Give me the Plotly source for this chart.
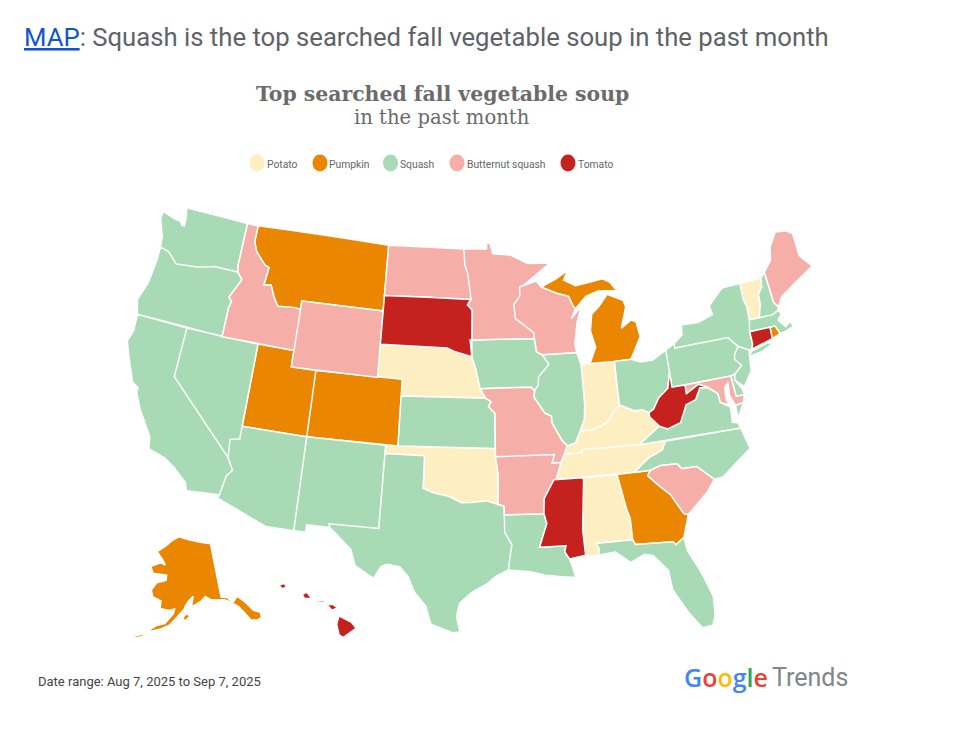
import plotly.graph_objects as go

categories = ["Potato", "Pumpkin", "Squash", "Butternut squash", "Tomato"]
colors = ["#FEEFC3", "#EA8600", "#A8DAB5", "#F6AEA9", "#C5221F"]

potato = ["VT", "NE", "OK", "IN", "KY", "TN", "AL"]
pumpkin = ["MT", "UT", "CO", "MI", "MI_UP", "GA", "AK", "AK_KODIAK", "AK_ISLE1", "RI"]
squash = ["WA", "OR", "CA", "NV", "AZ", "NM", "TX", "KS", "IA", "IL", "LA", "FL", "OH", "PA", "NY", "NY_LI",
          "NJ", "NH", "MA", "VA", "VA_SHORE", "NC", "DE"]
butternut = ["ID", "WY", "ND", "MN", "WI", "MO", "AR", "ME", "SC", "MD"]
tomato = ["SD", "WV", "MS", "CT", "HI_BIG", "HI_MAUI", "HI_OAHU", "HI_KAUAI", "HI_MOLOKAI"]
category_states = [potato, pumpkin, squash, butternut, tomato]

# rough state outlines, lon/lat
outlines = {
    "WA": [(-124.7,48.38),(-123.5,48.15),(-122.9,48.1),(-122.75,47.9),(-122.5,47.9),(-122.55,48.5),(-122.76,49),(-117.03,49),(-117.04,46.42),(-116.92,45.99),(-118.98,46),(-119.3,45.93),(-120.5,45.7),(-121.2,45.65),(-122.3,45.55),(-122.8,45.9),(-123.2,46.15),(-124,46.27),(-124.1,46.9),(-124.7,47.9)],
    "OR": [(-124,46.27),(-123.2,46.15),(-122.8,45.9),(-122.3,45.55),(-121.2,45.65),(-120.5,45.7),(-119.3,45.93),(-118.98,46),(-116.92,45.99),(-116.45,45.6),(-116.85,44.95),(-117.2,44.4),(-116.9,44.2),(-117.03,43.8),(-117.03,42),(-124.2,42),(-124.55,42.85),(-124.1,44),(-123.95,45.5)],
    "CA": [(-124.2,42),(-120,42),(-120,39),(-114.63,35),(-114.13,34.3),(-114.5,33.9),(-114.72,32.72),(-117.12,32.53),(-117.3,33),(-118.4,33.75),(-119.2,34.15),(-120.5,34.45),(-120.65,35.15),(-121.9,36.6),(-122.5,37.5),(-122.5,37.8),(-123,38),(-123.8,39.3),(-124.35,40.3),(-124.1,41)],
    "NV": [(-120,42),(-114.04,42),(-114.04,36.2),(-114.75,36.1),(-114.63,35),(-120,39)],
    "ID": [(-117.03,49),(-116.05,49),(-116.05,48),(-115.7,47.45),(-114.75,46.75),(-114.35,46.65),(-114.5,45.55),(-113.9,45.65),(-113.45,44.95),(-113,44.45),(-111.5,44.55),(-111.05,44.48),(-111.05,42),(-117.03,42),(-117.03,43.8),(-116.9,44.2),(-117.2,44.4),(-116.85,44.95),(-116.45,45.6),(-116.92,45.99),(-117.04,46.42)],
    "MT": [(-116.05,49),(-104.05,49),(-104.05,45),(-111.05,45),(-111.05,44.48),(-111.5,44.55),(-113,44.45),(-113.45,44.95),(-113.9,45.65),(-114.5,45.55),(-114.35,46.65),(-114.75,46.75),(-115.7,47.45),(-116.05,48)],
    "WY": [(-111.05,45),(-104.05,45),(-104.05,41),(-111.05,41)],
    "UT": [(-114.04,42),(-111.05,42),(-111.05,41),(-109.05,41),(-109.05,37),(-114.04,37)],
    "CO": [(-109.05,41),(-102.05,41),(-102.05,37),(-109.05,37)],
    "AZ": [(-114.04,37),(-109.05,37),(-109.05,31.33),(-111.07,31.33),(-114.81,32.5),(-114.72,32.72),(-114.5,33.9),(-114.13,34.3),(-114.63,35),(-114.75,36.1),(-114.04,36.2)],
    "NM": [(-109.05,37),(-103,37),(-103.05,32),(-106.62,32),(-106.53,31.78),(-108.2,31.78),(-108.2,31.33),(-109.05,31.33)],
    "TX": [(-103,36.5),(-100,36.5),(-100,34.56),(-99.2,34.3),(-98.1,34.13),(-97.15,33.75),(-96.4,33.78),(-95.3,33.88),(-94.48,33.64),(-94.04,33.55),(-94.04,31.99),(-93.55,31.2),(-93.7,30.5),(-93.84,29.7),(-94.7,29.35),(-95.3,28.9),(-96.4,28.35),(-97.2,27.7),(-97.4,26.9),(-97.15,25.96),(-97.6,25.9),(-99.1,26.4),(-99.5,27.5),(-100.3,28.3),(-100.8,29.25),(-101.4,29.77),(-102.3,29.88),(-102.7,29.7),(-103.15,28.98),(-104.5,29.65),(-104.9,30.6),(-106.53,31.78),(-106.62,32),(-103.05,32)],
    "ND": [(-104.05,49),(-97.23,49),(-97.1,48),(-96.85,47.5),(-96.6,46.3),(-96.56,45.94),(-104.05,45.94)],
    "SD": [(-104.05,45.94),(-96.56,45.94),(-96.85,45.6),(-96.45,45.3),(-96.45,43.5),(-96.6,43.5),(-96.45,42.49),(-97.9,42.8),(-98.5,43),(-104.05,43)],
    "NE": [(-104.05,43),(-98.5,43),(-97.9,42.8),(-96.45,42.49),(-96.1,41.7),(-95.9,41),(-95.31,40),(-102.05,40),(-102.05,41),(-104.05,41)],
    "KS": [(-102.05,40),(-95.31,40),(-94.9,39.8),(-95.1,39.5),(-94.61,39.1),(-94.62,37),(-102.05,37)],
    "OK": [(-103,37),(-94.62,37),(-94.62,36.5),(-94.43,35.4),(-94.48,33.64),(-95.3,33.88),(-96.4,33.78),(-97.15,33.75),(-98.1,34.13),(-99.2,34.3),(-100,34.56),(-100,36.5),(-103,36.5)],
    "MN": [(-97.23,49),(-95.15,49),(-95.15,49.38),(-94.8,49.3),(-94.6,48.7),(-93,48.6),(-91.5,48.05),(-89.5,48),(-92,46.7),(-92.3,46.65),(-92.3,46.1),(-92.85,45.6),(-92.75,44.75),(-91.25,43.85),(-91.22,43.5),(-96.45,43.5),(-96.45,45.3),(-96.85,45.6),(-96.56,45.94),(-96.6,46.3),(-96.85,47.5),(-97.1,48)],
    "IA": [(-96.45,43.5),(-91.22,43.5),(-91.1,42.7),(-90.65,42.5),(-90.15,41.9),(-91.05,41.2),(-91.1,40.7),(-91.42,40.38),(-91.7,40.6),(-95.77,40.58),(-95.9,41),(-96.1,41.7),(-96.45,42.49)],
    "MO": [(-95.77,40.58),(-91.7,40.6),(-91.42,40.38),(-91.5,40),(-90.7,39),(-90.2,38.8),(-90.2,38.4),(-89.5,37.3),(-89.13,36.98),(-89.4,36.5),(-89.7,36),(-90.37,36),(-90.15,36.5),(-94.62,36.5),(-94.62,37),(-94.61,39.1),(-95.1,39.5),(-94.9,39.8),(-95.31,40)],
    "AR": [(-94.62,36.5),(-90.15,36.5),(-90.37,36),(-89.7,36),(-90.1,35.1),(-90.6,34.6),(-91.1,33.9),(-91.17,33),(-94.04,33.02),(-94.04,33.55),(-94.48,33.64),(-94.43,35.4)],
    "LA": [(-94.04,33.02),(-91.17,33),(-91,32.4),(-91.6,31),(-89.73,31),(-89.85,30.65),(-89.55,30.2),(-89.4,29.8),(-89.2,29.05),(-90.1,29.15),(-91.3,29.3),(-92.3,29.55),(-93.84,29.7),(-93.7,30.5),(-93.55,31.2),(-94.04,31.99)],
    "WI": [(-92,46.7),(-90.8,46.95),(-90.4,46.57),(-89.1,46.14),(-88.1,45.9),(-87.8,45.35),(-87.6,45.1),(-88,44.55),(-87.05,45.25),(-87.55,44.3),(-87.9,43),(-87.8,42.49),(-90.65,42.5),(-91.1,42.7),(-91.22,43.5),(-91.25,43.85),(-92.75,44.75),(-92.85,45.6),(-92.3,46.1),(-92.3,46.65)],
    "IL": [(-90.65,42.5),(-87.8,42.49),(-87.53,41.72),(-87.53,39.35),(-87.65,38.5),(-88.05,37.8),(-88.5,37.1),(-89.13,36.98),(-89.5,37.3),(-90.2,38.4),(-90.2,38.8),(-90.7,39),(-91.5,40),(-91.42,40.38),(-91.1,40.7),(-91.05,41.2),(-90.15,41.9)],
    "IN": [(-87.53,41.72),(-87.2,41.76),(-84.8,41.76),(-84.82,39.1),(-85.4,38.7),(-85.75,38.27),(-86.3,38),(-87.1,37.8),(-88.05,37.8),(-87.65,38.5),(-87.53,39.35)],
    "MI": [(-86.8,41.76),(-84.8,41.73),(-83.45,41.73),(-83.15,42.1),(-82.45,43),(-82.6,43.9),(-83,44.07),(-83.9,43.65),(-83.3,44.9),(-83.45,45.3),(-84.75,45.78),(-85.6,45.1),(-86.25,44.7),(-86.5,43.7),(-86.2,42.7)],
    "MI_UP": [(-90.4,46.57),(-89.1,47),(-88,47.45),(-88.4,46.9),(-87.4,46.5),(-86,46.65),(-85,46.75),(-84.4,46.5),(-83.9,45.95),(-84.75,46),(-85.5,46.05),(-86.6,45.8),(-87.6,45.1),(-87.8,45.35),(-88.1,45.9),(-89.1,46.14)],
    "OH": [(-84.8,41.73),(-83.45,41.73),(-82.7,41.5),(-81.7,41.5),(-80.52,41.98),(-80.52,40.64),(-80.85,39.7),(-81.7,39.2),(-82.2,38.6),(-82.6,38.42),(-83.1,38.65),(-83.7,38.65),(-84.82,39.1)],
    "KY": [(-89.4,36.5),(-88.06,36.5),(-88.06,36.68),(-83.68,36.6),(-81.97,37.54),(-82.6,38.17),(-82.6,38.42),(-83.1,38.65),(-83.7,38.65),(-84.82,39.1),(-85.4,38.7),(-85.75,38.27),(-86.3,38),(-87.1,37.8),(-88.05,37.8),(-88.5,37.1),(-89.13,36.98)],
    "TN": [(-90.1,35),(-89.7,36),(-89.4,36.5),(-88.06,36.5),(-88.06,36.68),(-83.68,36.6),(-81.68,36.59),(-82,36.1),(-83.1,35.75),(-84.32,35)],
    "MS": [(-90.3,35),(-88.2,35),(-88.1,34.9),(-88.47,31.9),(-88.4,30.35),(-89.55,30.2),(-89.85,30.65),(-89.73,31),(-91.6,31),(-91,32.4),(-91.17,33),(-91.1,33.9),(-90.6,34.6)],
    "AL": [(-88.2,35),(-85.6,35),(-85.18,32.87),(-85,32.3),(-85,31),(-87.6,31),(-87.4,30.65),(-87.5,30.3),(-88,30.25),(-88.4,30.35),(-88.47,31.9),(-88.1,34.9)],
    "GA": [(-85.6,35),(-83.1,35),(-83.35,34.7),(-82.6,34),(-81.9,33.4),(-81.15,32.15),(-80.85,32.03),(-81.4,30.72),(-82.05,30.36),(-82.2,30.57),(-84.86,30.7),(-85,31),(-85,32.3),(-85.18,32.87)],
    "FL": [(-87.6,31),(-85,31),(-84.86,30.7),(-82.2,30.57),(-82.05,30.36),(-81.4,30.72),(-81.3,29.9),(-80.55,28.4),(-80.05,26.9),(-80.15,25.75),(-80.4,25.2),(-81.1,25.15),(-81.8,26.1),(-82.7,27.7),(-82.8,28.9),(-83.7,29.9),(-84.3,30.05),(-85.3,29.65),(-86.3,30.38),(-87.5,30.3),(-87.4,30.65)],
    "SC": [(-83.1,35),(-82.3,35.2),(-81.05,35.15),(-80.8,34.82),(-79.67,34.8),(-78.55,33.85),(-79.2,33.2),(-80.85,32.03),(-81.15,32.15),(-81.9,33.4),(-82.6,34),(-83.35,34.7)],
    "NC": [(-84.32,35),(-83.1,35.75),(-82,36.1),(-81.68,36.59),(-75.87,36.55),(-75.5,35.25),(-76.5,34.7),(-77.9,33.9),(-78.55,33.85),(-79.67,34.8),(-80.8,34.82),(-81.05,35.15),(-82.3,35.2),(-83.1,35)],
    "VA": [(-83.68,36.6),(-75.87,36.55),(-76,36.9),(-76.4,37),(-76.3,37.9),(-77,38.3),(-77.05,38.85),(-77.72,39.32),(-78.35,39.4),(-78.85,38.75),(-79.65,38.55),(-80.3,37.55),(-81.35,37.3),(-81.97,37.54)],
    "VA_SHORE": [(-75.9,37.95),(-75.25,38.03),(-75.9,37.15)],
    "WV": [(-81.97,37.54),(-81.35,37.3),(-80.3,37.55),(-79.65,38.55),(-78.85,38.75),(-78.35,39.4),(-77.72,39.32),(-78.4,39.62),(-79.48,39.2),(-79.48,39.72),(-80.52,39.72),(-80.52,40.64),(-80.85,39.7),(-81.7,39.2),(-82.2,38.6),(-82.6,38.42),(-82.6,38.17)],
    "MD": [(-79.48,39.72),(-75.79,39.72),(-75.7,38.46),(-75.05,38.45),(-75.25,38.03),(-75.9,37.95),(-76.2,38.6),(-76.1,39.4),(-76.45,39.1),(-76.5,38.4),(-76.35,38.05),(-77,38.3),(-77.05,38.85),(-77.72,39.32),(-78.4,39.62),(-79.48,39.2)],
    "DE": [(-75.79,39.72),(-75.4,39.8),(-75.55,39.45),(-75.1,38.8),(-75.05,38.45),(-75.7,38.46)],
    "PA": [(-80.52,41.98),(-79.76,42.27),(-79.76,42),(-75.35,42),(-74.7,41.36),(-75.1,40.95),(-75.2,40.65),(-74.75,40.2),(-75.4,39.8),(-75.79,39.72),(-80.52,39.72)],
    "NJ": [(-74.7,41.36),(-73.9,41),(-74,40.45),(-74.1,39.75),(-74.9,38.93),(-75.55,39.45),(-75.4,39.8),(-74.75,40.2),(-75.2,40.65),(-75.1,40.95)],
    "NY": [(-79.76,42.27),(-79,42.7),(-78.9,43.3),(-77.5,43.25),(-76.2,43.55),(-76.3,44.1),(-75,44.95),(-74.7,45),(-73.35,45.01),(-73.4,44),(-73.25,43.6),(-73.3,42.75),(-73.5,42.05),(-73.5,41.3),(-73.65,41),(-73.9,41),(-74.7,41.36),(-75.35,42),(-79.76,42)],
    "NY_LI": [(-74,40.6),(-73.7,40.9),(-72.3,41.15),(-71.9,41.05),(-72.9,40.72)],
    "VT": [(-73.35,45.01),(-71.5,45.01),(-71.6,44.5),(-72.05,44.1),(-72.1,43.5),(-72.46,42.73),(-73.3,42.75),(-73.25,43.6),(-73.4,44)],
    "NH": [(-71.5,45.01),(-71.08,45.3),(-70.98,43.4),(-70.7,43.07),(-70.82,42.87),(-71.3,42.7),(-72.46,42.73),(-72.1,43.5),(-72.05,44.1),(-71.6,44.5)],
    "ME": [(-71.08,45.3),(-70.3,45.9),(-70,46.7),(-69.22,47.46),(-68.3,47.35),(-67.8,47.07),(-67.8,45.7),(-67.45,45.3),(-67,44.85),(-68.5,44.3),(-69,44.1),(-70.2,43.6),(-70.7,43.07),(-70.98,43.4)],
    "MA": [(-73.5,42.05),(-73.3,42.75),(-72.46,42.73),(-71.3,42.7),(-70.82,42.87),(-70.6,42.65),(-71,42.3),(-70.55,41.8),(-70.05,42.05),(-69.95,41.7),(-70.6,41.55),(-71.12,41.5),(-71.38,42.02),(-71.8,42.02)],
    "RI": [(-71.8,42.02),(-71.38,42.02),(-71.12,41.5),(-71.85,41.32)],
    "CT": [(-73.5,42.05),(-71.8,42.02),(-71.85,41.32),(-73.65,41),(-73.5,41.3)],
    "AK": [(-141,69.65),(-141,60.3),(-139,60),(-137.5,58.9),(-135.5,59.8),(-133.5,58.4),(-131.8,56.6),(-130,55.9),(-130.2,55),(-131.5,54.8),(-133.5,55.2),(-134.5,56.5),(-136,58),(-138,59),(-140,59.7),(-144.5,60.1),(-146.5,60.8),(-148.3,60),(-151.5,59.2),(-150.8,61),(-152.5,60.2),(-153.5,59.4),(-154,58.8),(-156.5,57.3),(-158.5,56),(-161,55.2),(-163.5,54.7),(-164.8,54.6),(-162.5,55.7),(-160,56.2),(-157.5,58),(-157.2,58.8),(-159,58.5),(-162,58.7),(-162,60),(-165,60.5),(-166,61.6),(-164.5,63),(-161,63.6),(-161,64.5),(-166.5,64.5),(-168,65.6),(-164,66.5),(-162,66.2),(-163.5,67.1),(-166.5,68.3),(-163,69.5),(-160,70.6),(-156.6,71.35),(-152,70.85),(-146,70.2)],
    "AK_KODIAK": [(-154.5,57.3),(-153.2,58.1),(-152.2,57.6),(-153.5,56.8)],
    "AK_ISLE1": [(-168.5,53.2),(-166.2,53.9),(-166,53.5),(-168,53)],
    "HI_BIG": [(-155.9,20.25),(-155.1,19.85),(-154.8,19.5),(-155.65,18.93),(-155.9,19.1),(-156.05,19.75)],
    "HI_MAUI": [(-156.7,20.95),(-156.3,20.95),(-156,20.75),(-156.35,20.58),(-156.55,20.8)],
    "HI_OAHU": [(-158.27,21.55),(-157.97,21.7),(-157.65,21.3),(-158.1,21.3)],
    "HI_KAUAI": [(-159.75,22.1),(-159.4,22.23),(-159.3,22),(-159.55,21.88)],
    "HI_MOLOKAI": [(-157.3,21.2),(-156.75,21.15),(-156.9,21.05),(-157.25,21.1)],
}

# hand placed legend, page pixels
legend_swatch_x = [257, 320, 390.5, 457, 568]
legend_text_x = [267, 329, 400, 467, 578]
legend_y = 163

PAGE_MARGIN = 8
FIG_W = 942
FIG_H = 713


def clockwise(ring):
    # d3 fills the small side of a ring only when it runs clockwise
    area = sum(a[0] * b[1] - b[0] * a[1] for a, b in zip(ring, ring[1:] + ring[:1]))
    return ring[::-1] if area > 0 else ring


def paper_x(px):
    return (px - PAGE_MARGIN) / FIG_W


def paper_y(py):
    return 1 - (py - PAGE_MARGIN) / FIG_H


def add_text(fig, px, py, text, family, size, color="#666666", anchor="left", weight=None):
    fig.add_annotation(x=paper_x(px), y=paper_y(py), xref="paper", yref="paper", xanchor=anchor, yanchor="middle",
                       showarrow=False, text=text, borderpad=0, borderwidth=0,
                       font=dict(family=family, size=size, color=color, weight=weight))


fig = go.Figure()

for name, color, states in zip(categories, colors, category_states):
    lon, lat = [], []
    for state in states:
        ring = clockwise(outlines[state])
        ring = ring + ring[:1]
        lon += [p[0] for p in ring] + [None]
        lat += [p[1] for p in ring] + [None]
    fig.add_trace(go.Scattergeo(lon=lon, lat=lat, mode="lines", fill="toself", fillcolor=color, name=name,
                                line=dict(color="white", width=1.5), showlegend=False, hoverinfo="name"))

fig.update_geos(scope="usa", projection_type="albers usa", visible=False, bgcolor="white",
                showland=False, showlakes=False, showcountries=False, showcoastlines=False,
                showsubunits=False, showframe=False, domain=dict(x=[0.0, 0.98], y=[0.105, 0.739]))

add_text(fig, 24, 37, '<span style="color:#1155cc;text-decoration:underline">MAP</span>: Squash is the top searched fall vegetable soup in the past month',
         "Roboto", 25.7, "#5f6368")
add_text(fig, 442, 94, "<b>Top searched fall vegetable soup</b>", "DejaVu Serif", 20.4, "#6b6b6b", anchor="center")
add_text(fig, 442, 118, "in the past month", "DejaVu Serif", 19.6, "#6b6b6b", anchor="center")
add_text(fig, 38, 681, "Date range: Aug 7, 2025 to Sep 7, 2025", "Roboto", 13, "#444444")

for name, color, sx, tx in zip(categories, colors, legend_swatch_x, legend_text_x):
    fig.add_shape(type="circle", xref="paper", yref="paper", fillcolor=color, line_width=0,
                  x0=paper_x(sx - 7.5), x1=paper_x(sx + 7.5), y0=paper_y(legend_y - 8.5), y1=paper_y(legend_y + 8.5))
    add_text(fig, tx, legend_y + 1, name, "Roboto", 10.3)

add_text(fig, 684, 677, '<span style="color:#4285F4">G</span><span style="color:#EA4335">o</span><span style="color:#FBBC05">o</span>'
                        '<span style="color:#4285F4">g</span><span style="color:#34A853">l</span><span style="color:#EA4335">e</span>',
         "Open Sans", 25, weight=600)
add_text(fig, 772, 677, "Trends", "Roboto", 25, "#80868b")

fig.update_layout(width=FIG_W, height=FIG_H, margin=dict(l=0, r=0, t=0, b=0), paper_bgcolor="white", showlegend=False)
fig.write_html("out.html")
